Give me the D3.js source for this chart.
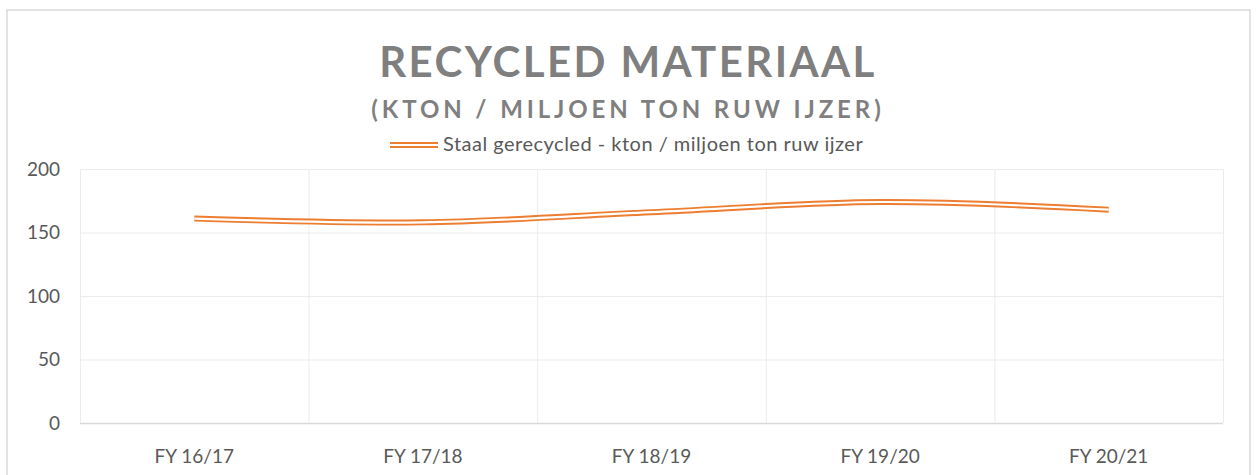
<!DOCTYPE html>
<html>
<head>
<meta charset="utf-8">
<script src="https://cdn.jsdelivr.net/npm/d3@7"></script>
<style>
  body { margin: 0; background: #fff; }
  text { font-family: Lato, "Open Sans", sans-serif; }
</style>
</head>
<body>
<svg id="chart" width="1257" height="475"></svg>
<script>
var categories = ["FY 16/17", "FY 17/18", "FY 18/19", "FY 19/20", "FY 20/21"];
var recycled = [161, 158, 166, 174, 168];
var yTicks = [0, 50, 100, 150, 200];
var seriesName = "Staal gerecycled - kton / miljoen ton ruw ijzer";

var svg = d3.select("#chart");
var orange = "#ed7d31";
var grey = "#595959";

// chart border
svg.append("rect")
    .attr("x", 7).attr("y", 10)
    .attr("width", 1243).attr("height", 480)
    .attr("fill", "#fff")
    .attr("stroke", "#d9d9d9")
    .attr("stroke-width", 1.5);

var margin = {left: 80, right: 1223, top: 169, bottom: 423};

var x = d3.scaleBand()
    .domain(categories)
    .range([margin.left, margin.right]);

var y = d3.scaleLinear()
    .domain([0, 200])
    .range([margin.bottom, margin.top]);

// horizontal grid
svg.append("g").selectAll("line")
    .data(yTicks)
  .enter().append("line")
    .attr("x1", margin.left).attr("x2", margin.right)
    .attr("y1", function(d) { return y(d) + 0.5; })
    .attr("y2", function(d) { return y(d) + 0.5; })
    .attr("stroke", function(d) { return d == 0 ? "#d9d9d9" : "#ececec"; })
    .attr("stroke-width", function(d) { return d == 0 ? 1.5 : 1; });

// vertical grid between categories
var bounds = categories.map(function(c) { return x(c); }).concat([margin.right]);
svg.append("g").selectAll("line")
    .data(bounds)
  .enter().append("line")
    .attr("x1", function(d) { return d + 0.5; })
    .attr("x2", function(d) { return d + 0.5; })
    .attr("y1", margin.top).attr("y2", margin.bottom)
    .attr("stroke", "#ececec");

// y axis labels
svg.append("g").selectAll("text")
    .data(yTicks)
  .enter().append("text")
    .attr("x", 60)
    .attr("y", function(d) { return y(d); })
    .attr("dy", "0.35em")
    .attr("text-anchor", "end")
    .attr("font-size", 19)
    .attr("fill", grey)
    .text(function(d) { return d; });

// x axis labels
svg.append("g").selectAll("text")
    .data(categories)
  .enter().append("text")
    .attr("x", function(d) { return x(d) + x.bandwidth() / 2; })
    .attr("y", 456)
    .attr("dy", "0.35em")
    .attr("text-anchor", "middle")
    .attr("font-size", 19)
    .attr("fill", grey)
    .text(function(d) { return d; });

// double (compound) line
var line = d3.line()
    .x(function(d, i) { return x(categories[i]) + x.bandwidth() / 2; })
    .y(function(d) { return y(d); })
    .curve(d3.curveCatmullRom.alpha(0.5));

svg.append("path")
    .datum(recycled)
    .attr("d", line)
    .attr("fill", "none")
    .attr("stroke", orange)
    .attr("stroke-width", 6);
svg.append("path")
    .datum(recycled)
    .attr("d", line)
    .attr("fill", "none")
    .attr("stroke", "#fff")
    .attr("stroke-width", 2.2);

// titles
svg.append("text")
    .attr("x", 628).attr("y", 77)
    .attr("text-anchor", "middle")
    .attr("font-size", 42)
    .attr("font-weight", "bold")
    .attr("letter-spacing", 2.4)
    .attr("fill", "#7f7f7f")
    .text("RECYCLED MATERIAAL");

svg.append("text")
    .attr("x", 628).attr("y", 118)
    .attr("text-anchor", "middle")
    .attr("font-size", 24)
    .attr("font-weight", "bold")
    .attr("letter-spacing", 3.9)
    .attr("fill", "#7f7f7f")
    .text("(KTON / MILJOEN TON RUW IJZER)");

// legend
var legend = svg.append("g");
legend.append("line")
    .attr("x1", 390).attr("x2", 438)
    .attr("y1", 145).attr("y2", 145)
    .attr("stroke", orange).attr("stroke-width", 6);
legend.append("line")
    .attr("x1", 390).attr("x2", 438)
    .attr("y1", 145).attr("y2", 145)
    .attr("stroke", "#fff").attr("stroke-width", 2.2);
legend.append("text")
    .attr("x", 443).attr("y", 151)
    .attr("font-size", 20)
    .attr("letter-spacing", 0.5)
    .attr("fill", grey)
    .text(seriesName);
</script>
</body>
</html>
